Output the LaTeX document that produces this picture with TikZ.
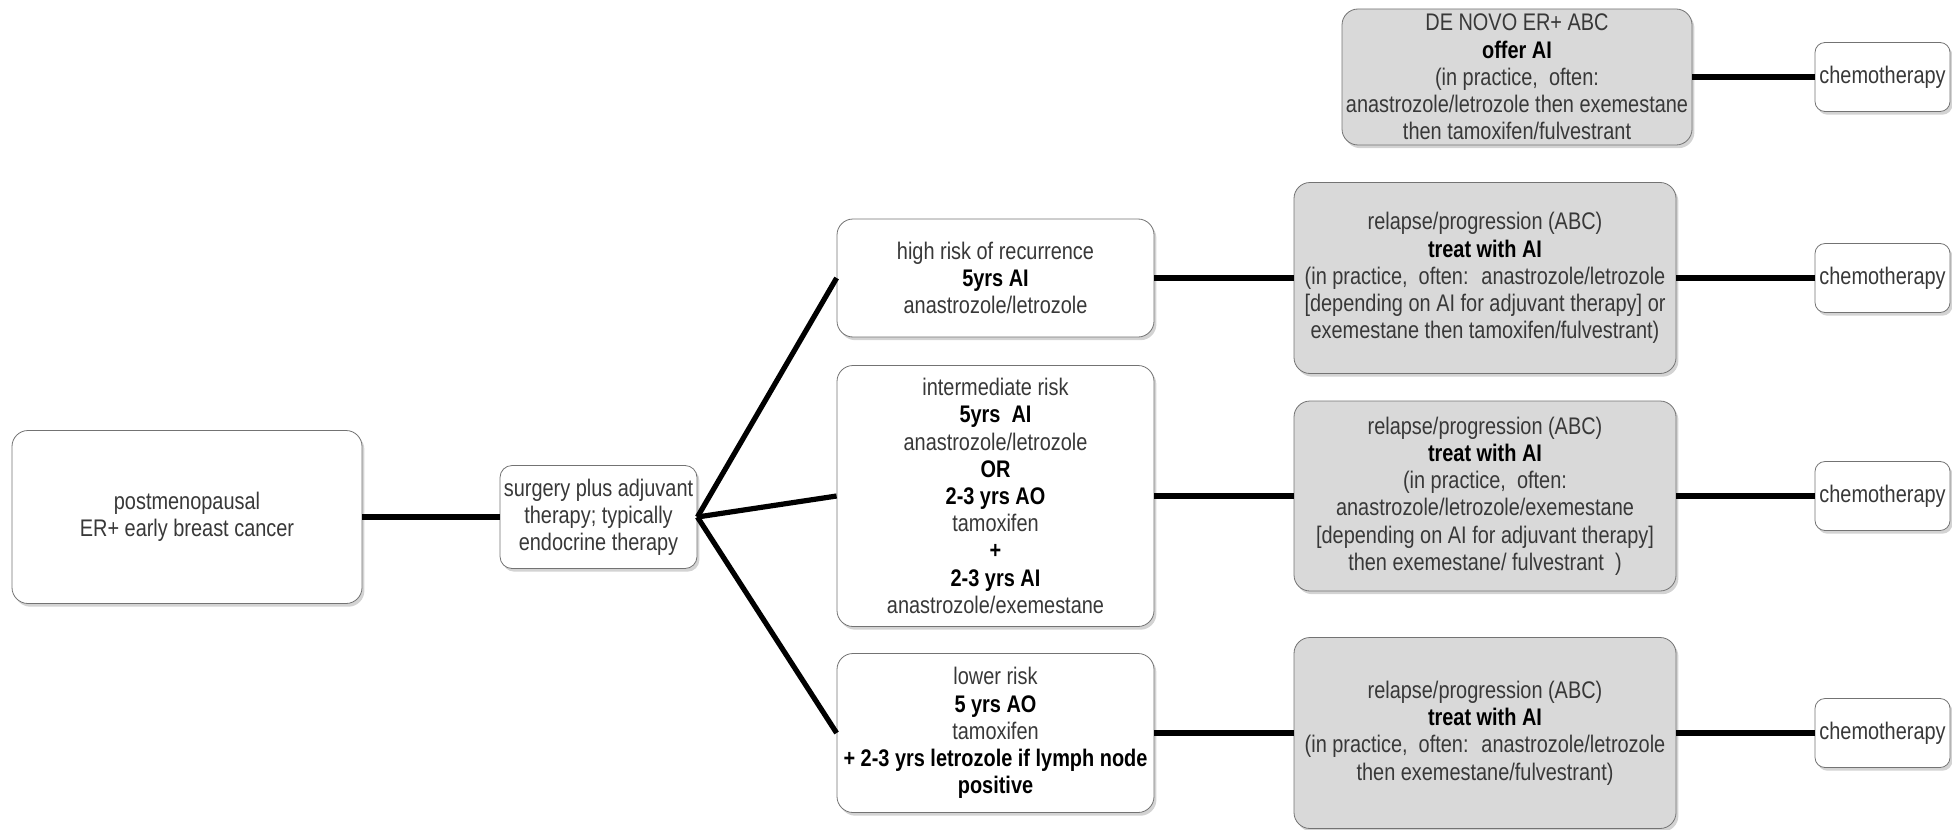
\documentclass[tikz,border=0pt]{standalone}
\usepackage{fontspec}
\setmainfont{Liberation Sans}[FakeStretch=0.83]
\usetikzlibrary{shadows}

\begin{document}
\begin{tikzpicture}[x=0.5pt, y=-0.5pt]
    \tikzstyle{plain box} = [draw=black!55, fill=white, rounded corners=8pt, align=center, inner sep=1pt, drop shadow={shadow xshift=1.2pt, shadow yshift=-1.6pt, opacity=0.35}, font=\fontsize{12}{13.6}\selectfont, text=black!78]
    \tikzstyle{grey box} = [plain box, fill=black!15]
    \tikzstyle{chemo box} = [plain box, minimum width=67.5pt, minimum height=34.5pt, rounded corners=5pt]
    \tikzstyle{link} = [line width=2.6pt]

    \useasboundingbox (0, 0) rectangle (1952, 829);

    % left part
    \node[plain box, minimum width=175pt, minimum height=86.5pt] (early) at (187, 517) {postmenopausal\\ER+ early breast cancer};
    \node[plain box, minimum width=98.5pt, minimum height=51.5pt, rounded corners=6pt] (surgery) at (598.5, 517) {surgery plus adjuvant\\therapy; typically\\endocrine therapy};

    % risk groups
    \node[plain box, minimum width=158.5pt, minimum height=59pt] (high) at (995.5, 278) {high risk of recurrence\\\textcolor{black}{\textbf{5yrs AI}}\\anastrozole/letrozole};
    \node[plain box, minimum width=158.5pt, minimum height=130.5pt] (inter) at (995.5, 496) {intermediate risk\\\textcolor{black}{\textbf{5yrs~ AI}}\\anastrozole/letrozole\\\textcolor{black}{\textbf{OR}}\\\textcolor{black}{\textbf{2-3 yrs AO}}\\tamoxifen\\\textcolor{black}{\textbf{+}}\\\textcolor{black}{\textbf{2-3 yrs AI}}\\anastrozole/exemestane};
    \node[plain box, minimum width=158.5pt, minimum height=79.5pt] (lower) at (995.5, 733) {lower risk\\\textcolor{black}{\textbf{5 yrs AO}}\\tamoxifen\\\textcolor{black}{\textbf{+ 2-3 yrs letrozole if lymph node}}\\\textcolor{black}{\textbf{positive}}};

    % relapse / progression
    \node[grey box, minimum width=175pt, minimum height=68pt] (denovo) at (1517, 77) {DE NOVO ER+ ABC\\\textcolor{black}{\textbf{offer AI}}\\(in practice,~ often:\\anastrozole/letrozole then exemestane\\then tamoxifen/fulvestrant};
    \node[grey box, minimum width=191pt, minimum height=95.5pt] (relhigh) at (1485, 278) {relapse/progression (ABC)\\\textcolor{black}{\textbf{treat with AI}}\\(in practice,~ often:~ anastrozole/letrozole\\{[depending on AI for adjuvant therapy] or}\\exemestane then tamoxifen/fulvestrant)};
    \node[grey box, minimum width=191pt, minimum height=95pt] (relinter) at (1485, 496) {relapse/progression (ABC)\\\textcolor{black}{\textbf{treat with AI}}\\(in practice,~ often:\\anastrozole/letrozole/exemestane\\{[depending on AI for adjuvant therapy]}\\then exemestane/ fulvestrant~ )};
    \node[grey box, minimum width=191pt, minimum height=95.5pt] (rellower) at (1485, 733) {relapse/progression (ABC)\\\textcolor{black}{\textbf{treat with AI}}\\(in practice,~ often:~ anastrozole/letrozole\\then exemestane/fulvestrant)};

    % chemotherapy
    \node[chemo box] (chemodenovo) at (1882.5, 77) {chemotherapy};
    \node[chemo box] (chemohigh) at (1882.5, 278) {chemotherapy};
    \node[chemo box] (chemointer) at (1882.5, 496) {chemotherapy};
    \node[chemo box] (chemolower) at (1882.5, 733) {chemotherapy};

    % connectors
    \draw[link] (early) -- (surgery);
    \draw[link] (surgery.east) -- (high.west);
    \draw[link] (surgery.east) -- (inter.west);
    \draw[link] (surgery.east) -- (lower.west);
    \draw[link] (high) -- (relhigh);
    \draw[link] (inter) -- (relinter);
    \draw[link] (lower) -- (rellower);
    \draw[link] (denovo.east) -- (chemodenovo.west);
    \draw[link] (relhigh) -- (chemohigh);
    \draw[link] (relinter) -- (chemointer);
    \draw[link] (rellower) -- (chemolower);
\end{tikzpicture}
\end{document}
